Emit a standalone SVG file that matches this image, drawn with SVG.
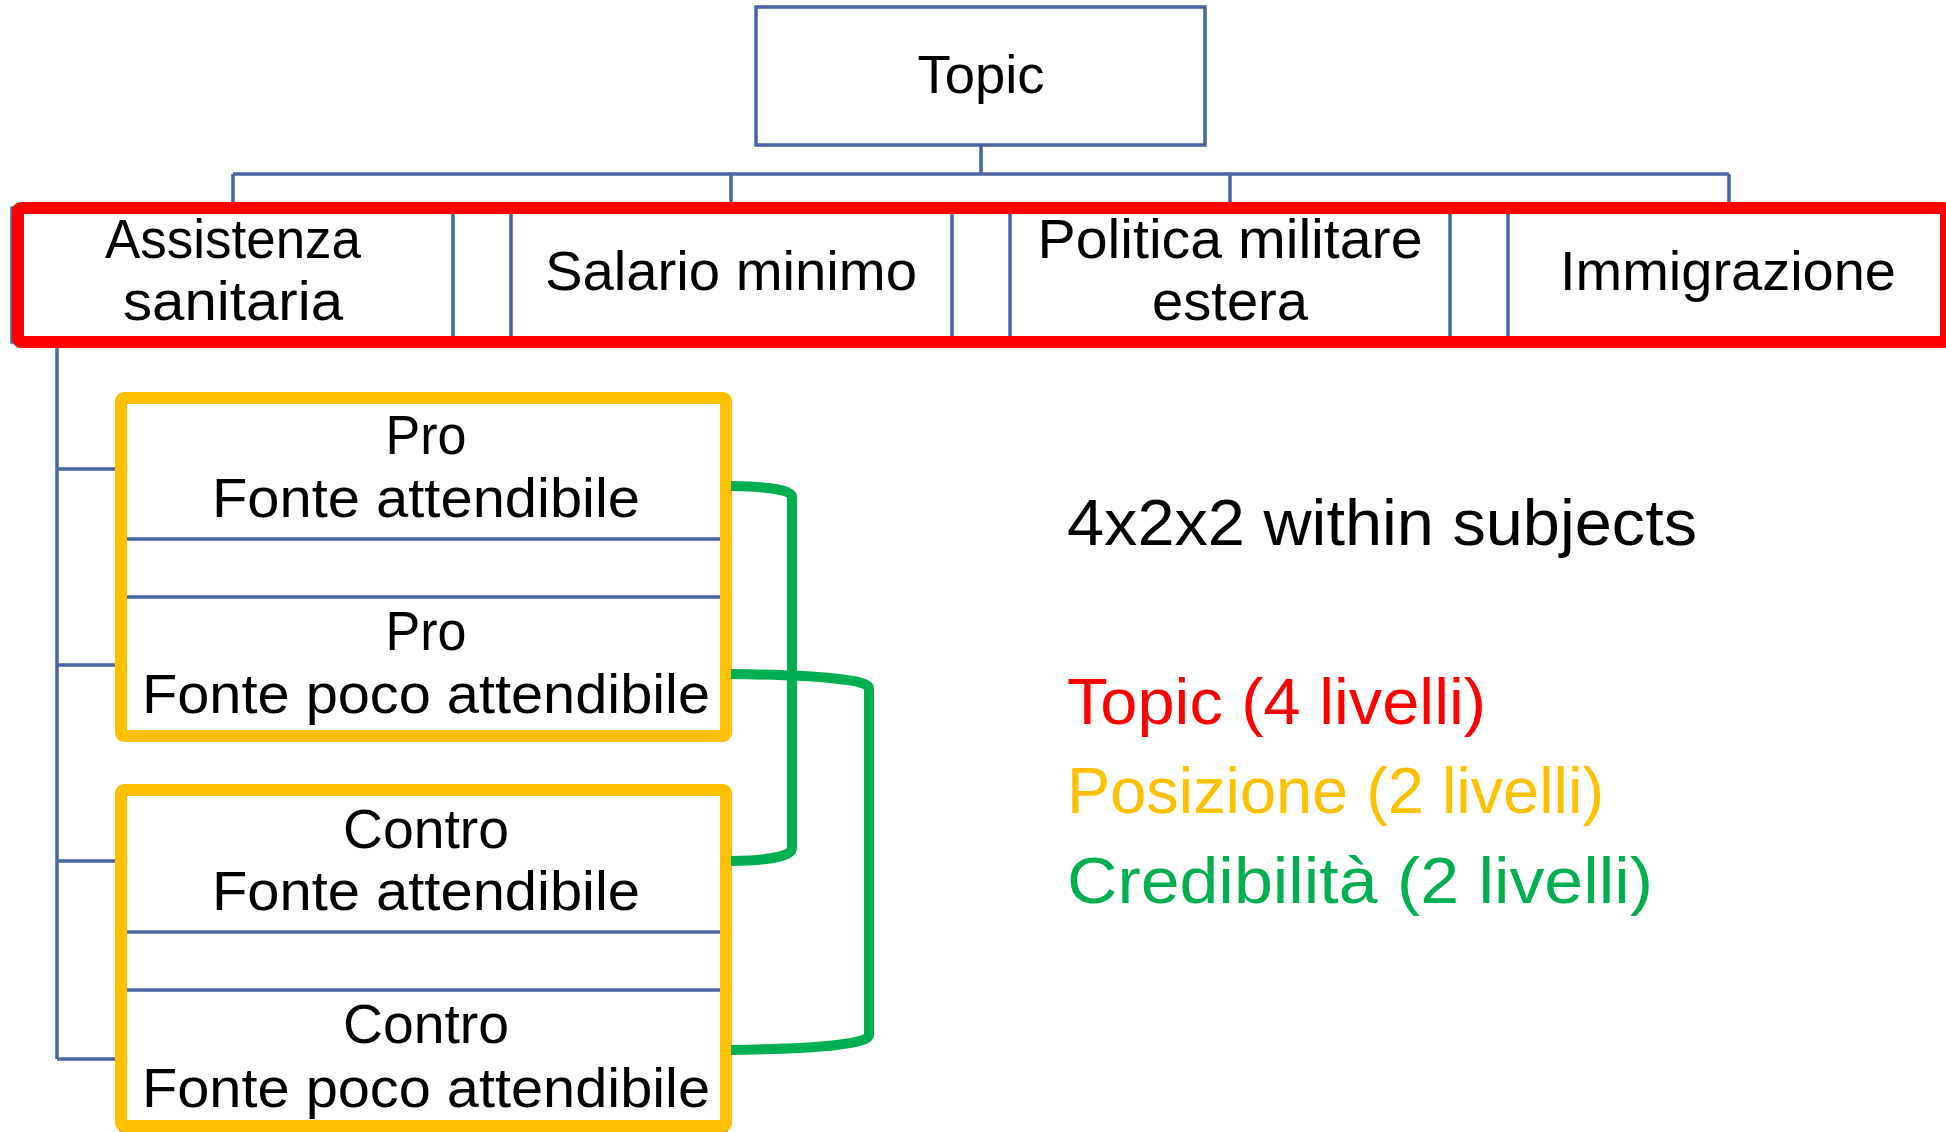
<svg xmlns="http://www.w3.org/2000/svg" width="1946" height="1132" viewBox="0 0 1946 1132">
<style>
.bx{fill:#fff;stroke:#4a64a4;stroke-width:3.5}
.ln{fill:none;stroke:#4a64a4;stroke-width:3.5}
.t{font-family:"Liberation Sans",Arial,sans-serif;fill:#000;text-anchor:middle}
.g{fill:none;stroke:#00b050;stroke-width:10;stroke-linejoin:round}
.r{font-family:"Liberation Sans",Arial,sans-serif;font-size:64px}
</style>
<rect width="1946" height="1132" fill="#fff"/>
<g id="connectors">
<path class="ln" d="M981 145V174M233 174H1729M233 174V210M731 174V210M1230 174V210M1729 174V210"/>
<path class="ln" d="M57 346V1059M57 469H118M57 665H118M57 861H118M57 1059H118"/>
</g>
<g id="topic">
<rect class="bx" x="756" y="7" width="449" height="138"/>
<text class="t" x="981" y="93" font-size="53" textLength="127" lengthAdjust="spacingAndGlyphs">Topic</text>
</g>
<g id="assistenza">
<rect class="bx" x="12" y="208" width="441" height="134"/>
<text class="t" x="233" y="258" font-size="56" textLength="256" lengthAdjust="spacingAndGlyphs">Assistenza</text>
<text class="t" x="233" y="320" font-size="56" textLength="220" lengthAdjust="spacingAndGlyphs">sanitaria</text>
</g>
<g id="salario">
<rect class="bx" x="511" y="208" width="441" height="134"/>
<text class="t" x="731" y="290" font-size="56" textLength="372" lengthAdjust="spacingAndGlyphs">Salario minimo</text>
</g>
<g id="politica">
<rect class="bx" x="1010" y="208" width="440" height="134"/>
<text class="t" x="1230" y="258" font-size="56" textLength="385" lengthAdjust="spacingAndGlyphs">Politica militare</text>
<text class="t" x="1230" y="320" font-size="56" textLength="156" lengthAdjust="spacingAndGlyphs">estera</text>
</g>
<g id="immigrazione">
<rect class="bx" x="1508" y="208" width="440" height="134"/>
<text class="t" x="1728" y="290" font-size="56" textLength="336" lengthAdjust="spacingAndGlyphs">Immigrazione</text>
</g>
<rect id="topic-group" x="18" y="208" width="1928" height="134" rx="3" fill="none" stroke="#ff0000" stroke-width="12"/>
<g id="pro-att">
<rect class="bx" x="121" y="399" width="605" height="140"/>
<text class="t" x="426" y="454" font-size="55" textLength="81" lengthAdjust="spacingAndGlyphs">Pro</text>
<text class="t" x="426" y="517" font-size="55" textLength="428" lengthAdjust="spacingAndGlyphs">Fonte attendibile</text>
</g>
<g id="pro-poco">
<rect class="bx" x="121" y="597" width="605" height="140"/>
<text class="t" x="426" y="650" font-size="55" textLength="81" lengthAdjust="spacingAndGlyphs">Pro</text>
<text class="t" x="426" y="713" font-size="55" textLength="568" lengthAdjust="spacingAndGlyphs">Fonte poco attendibile</text>
</g>
<g id="contro-att">
<rect class="bx" x="121" y="791" width="605" height="141"/>
<text class="t" x="426" y="848" font-size="55" textLength="166" lengthAdjust="spacingAndGlyphs">Contro</text>
<text class="t" x="426" y="910" font-size="55" textLength="428" lengthAdjust="spacingAndGlyphs">Fonte attendibile</text>
</g>
<g id="contro-poco">
<rect class="bx" x="121" y="990" width="605" height="140"/>
<text class="t" x="426" y="1043" font-size="55" textLength="166" lengthAdjust="spacingAndGlyphs">Contro</text>
<text class="t" x="426" y="1107" font-size="55" textLength="568" lengthAdjust="spacingAndGlyphs">Fonte poco attendibile</text>
</g>
<rect id="pro-group" x="121" y="398" width="605" height="338" rx="3" fill="none" stroke="#ffc000" stroke-width="12"/>
<rect id="contro-group" x="121" y="790" width="605" height="336" rx="3" fill="none" stroke="#ffc000" stroke-width="12"/>
<g id="credibility-links">
<path class="g" d="M731 486Q792 487 792 497V848Q792 860 731 861"/>
<path class="g" d="M731 674Q869 676 869 688V1035Q869 1048 731 1050"/>
</g>
<g id="legend">
<text class="r" x="1067" y="545" fill="#000" textLength="630" lengthAdjust="spacingAndGlyphs">4x2x2 within subjects</text>
<text class="r" x="1067" y="724" fill="#ff0000" textLength="419" lengthAdjust="spacingAndGlyphs">Topic (4 livelli)</text>
<text class="r" x="1067" y="813" fill="#ffc000" textLength="537" lengthAdjust="spacingAndGlyphs">Posizione (2 livelli)</text>
<text class="r" x="1067" y="903" fill="#00b050" textLength="586" lengthAdjust="spacingAndGlyphs">Credibilità (2 livelli)</text>
</g>
</svg>
